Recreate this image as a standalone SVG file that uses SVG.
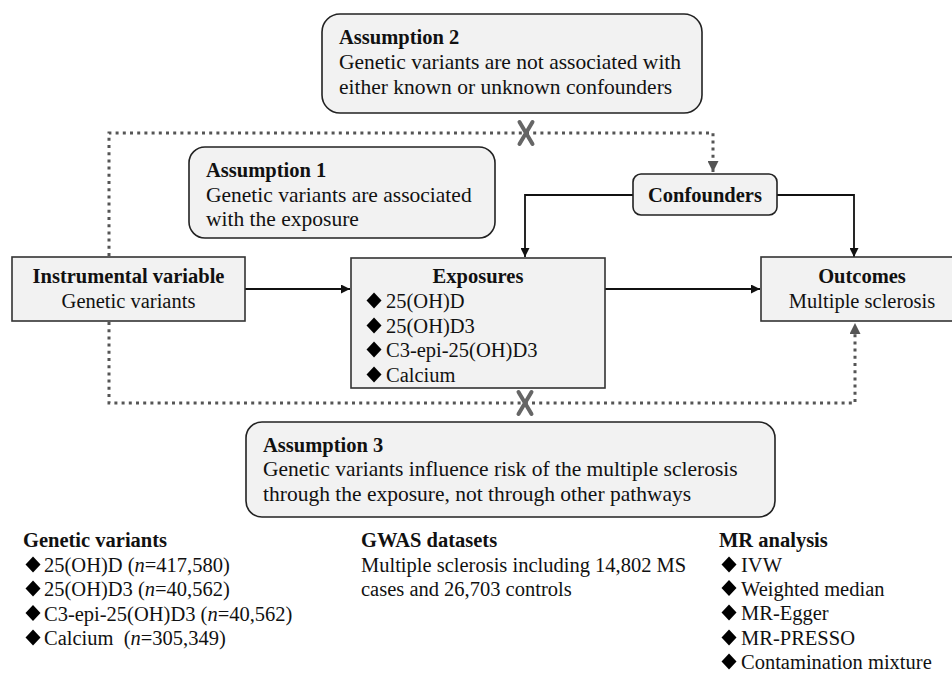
<svg xmlns="http://www.w3.org/2000/svg" width="952" height="674" viewBox="0 0 952 674">
<style>
  text { font-family: "Liberation Serif", "Times New Roman", serif; fill: #111; }
  .t { font-size: 20.5px; }
  .b { font-size: 20.5px; font-weight: bold; }
  .ab { font-size: 21.5px; }
  .c { text-anchor: middle; }
  .dm { fill: #000; }
  .box { fill: #f2f2f2; stroke: #333; stroke-width: 1.6; }
  .rbox { fill: #f2f2f2; stroke: #222; stroke-width: 1.6; }
  .solid { fill: none; stroke: #111; stroke-width: 1.8; }
  .dot { fill: none; stroke: #555; stroke-width: 3; stroke-dasharray: 3 4.2; }
  .x { stroke: #666; stroke-width: 4; stroke-linecap: round; fill: none; }
</style>
<defs>
  <path id="dm" class="dm" d="M0,-8 L7.5,0 L0,8 L-7.5,0 z"/>
  <marker id="ab" viewBox="0 0 10 10" refX="10" refY="5" markerWidth="10" markerHeight="9" markerUnits="userSpaceOnUse" orient="auto">
    <path d="M0,0 L10,5 L0,10 z" fill="#111"/>
  </marker>
  <marker id="ag" viewBox="0 0 10 10" refX="10" refY="5" markerWidth="13" markerHeight="11" markerUnits="userSpaceOnUse" orient="auto">
    <path d="M0,0 L10,5 L0,10 z" fill="#555"/>
  </marker>
</defs>

<g id="connectors">
  <path class="solid" d="M245,289 H350" marker-end="url(#ab)"/>
  <path class="solid" d="M605,289 H760" marker-end="url(#ab)"/>
  <path class="solid" d="M633,195 H525 V257" marker-end="url(#ab)"/>
  <path class="solid" d="M777,195 H854 V257" marker-end="url(#ab)"/>
  <path class="dot" d="M109,256 V133 H713 V172" marker-end="url(#ag)"/>
  <path class="dot" d="M109,322 V403 H855 V323" marker-end="url(#ag)"/>
  <path class="x" d="M519.5,122 L532.5,144 M532.5,122 L519.5,144"/>
  <path class="x" d="M518.5,392 L531.5,414 M531.5,392 L518.5,414"/>
</g>

<g id="assumption2">
  <rect class="rbox" x="322" y="14" width="380" height="99" rx="18"/>
  <text class="b" x="339" y="44">Assumption 2</text>
  <text class="ab" x="339" y="68.5">Genetic variants are not associated with</text>
  <text class="ab" x="339" y="93.5">either known or unknown confounders</text>
</g>

<g id="assumption1">
  <rect class="rbox" x="189" y="147" width="306" height="91" rx="16"/>
  <text class="b" x="206" y="177">Assumption 1</text>
  <text class="ab" x="206" y="202">Genetic variants are associated</text>
  <text class="ab" x="206" y="226">with the exposure</text>
</g>

<g id="confounders">
  <rect class="rbox" x="633" y="174" width="144" height="41" rx="8"/>
  <text class="b c" x="705" y="202">Confounders</text>
</g>

<g id="instrumental">
  <rect class="box" x="12" y="257" width="233" height="64"/>
  <text class="b c" x="128.5" y="283">Instrumental variable</text>
  <text class="t c" x="128.5" y="308">Genetic variants</text>
</g>

<g id="exposures">
  <rect class="box" x="351" y="258" width="254" height="130"/>
  <text class="b c" x="478" y="283">Exposures</text>
  <use href="#dm" x="374" y="300.5"/>
  <use href="#dm" x="374" y="325.5"/>
  <use href="#dm" x="374" y="349.5"/>
  <use href="#dm" x="374" y="374.5"/>
  <text class="t" x="386" y="308">25(OH)D</text>
  <text class="t" x="386" y="333">25(OH)D3</text>
  <text class="t" x="386" y="357">C3-epi-25(OH)D3</text>
  <text class="t" x="386" y="382">Calcium</text>
</g>

<g id="outcomes">
  <rect class="box" x="761" y="257" width="200" height="64"/>
  <text class="b c" x="862" y="283">Outcomes</text>
  <text class="t c" x="862" y="308">Multiple sclerosis</text>
</g>

<g id="assumption3">
  <rect class="rbox" x="246" y="422" width="529" height="95" rx="16"/>
  <text class="b" x="263" y="452">Assumption 3</text>
  <text class="ab" x="263" y="476">Genetic variants influence risk of the multiple sclerosis</text>
  <text class="ab" x="263" y="500.5">through the exposure, not through other pathways</text>
</g>

<g id="genetic-variants">
  <text class="b" x="23" y="547">Genetic variants</text>
  <use href="#dm" x="33" y="564.5"/>
  <use href="#dm" x="33" y="588.5"/>
  <use href="#dm" x="33" y="613"/>
  <use href="#dm" x="33" y="637.5"/>
  <text class="t" x="44" y="572">25(OH)D (<tspan font-style="italic">n</tspan>=417,580)</text>
  <text class="t" x="44" y="596">25(OH)D3 (<tspan font-style="italic">n</tspan>=40,562)</text>
  <text class="t" x="44" y="620.5">C3-epi-25(OH)D3 (<tspan font-style="italic">n</tspan>=40,562)</text>
  <text class="t" x="44" y="645" xml:space="preserve">Calcium  (<tspan font-style="italic">n</tspan>=305,349)</text>
</g>

<g id="gwas">
  <text class="b" x="361" y="547">GWAS datasets</text>
  <text class="t" x="361" y="572">Multiple sclerosis including 14,802 MS</text>
  <text class="t" x="361" y="596">cases and 26,703 controls</text>
</g>

<g id="mr-analysis">
  <text class="b" x="719" y="547">MR analysis</text>
  <use href="#dm" x="729" y="564.5"/>
  <use href="#dm" x="729" y="588"/>
  <use href="#dm" x="729" y="612.5"/>
  <use href="#dm" x="729" y="637.5"/>
  <use href="#dm" x="729" y="661.5"/>
  <text class="t" x="741" y="572">IVW</text>
  <text class="t" x="741" y="595.5">Weighted median</text>
  <text class="t" x="741" y="620">MR-Egger</text>
  <text class="t" x="741" y="645">MR-PRESSO</text>
  <text class="t" x="741" y="669">Contamination mixture</text>
</g>
</svg>
